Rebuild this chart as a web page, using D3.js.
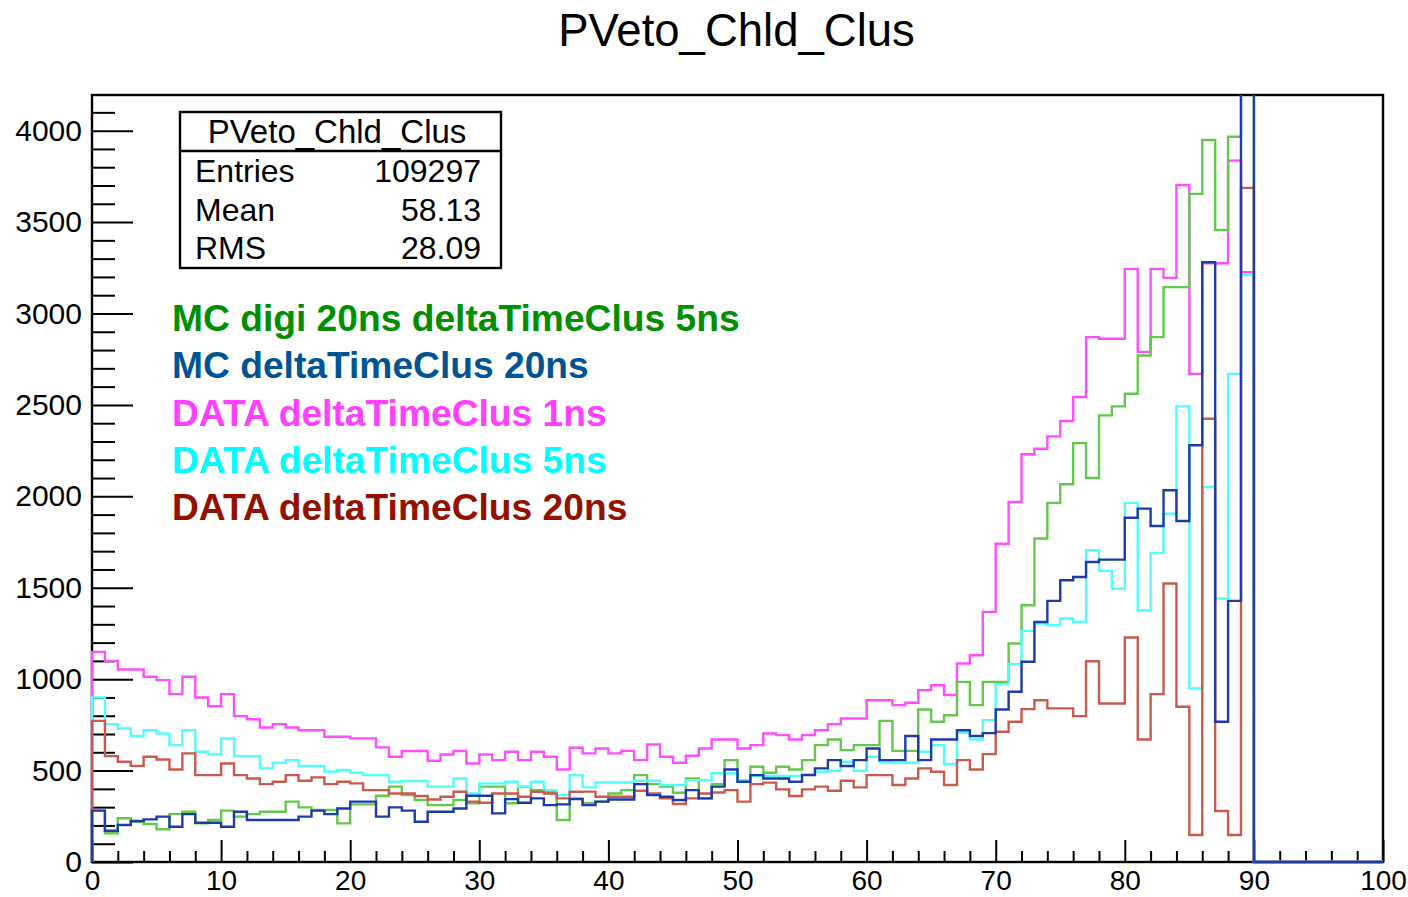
<!DOCTYPE html>
<html>
<head>
<meta charset="utf-8">
<script src="https://cdn.jsdelivr.net/npm/d3@7"></script>
<style>
  body { margin: 0; background: #ffffff; }
  svg { display: block; font-family: "Liberation Sans", Arial, Helvetica, sans-serif; }
</style>
</head>
<body>
<svg id="chart" width="1408" height="897"></svg>
<script>
// Histogram PVeto_Chld_Clus: 100 bins of width 1 over [0, 100]
const binLow = d3.range(0, 100);

// MC digi 20ns deltaTimeClus 5ns (last filled bin is above the plotted range)
const mcDigi5 = [
  281, 157, 239, 220, 208, 179, 262, 275, 211, 230,
  281, 248, 262, 275, 275, 330, 299, 284, 284, 211,
  315, 315, 362, 412, 366, 339, 311, 311, 339, 321,
  412, 412, 321, 412, 393, 384, 230, 348, 321, 330,
  375, 393, 475, 426, 412, 379, 457, 348, 426, 557,
  439, 521, 488, 521, 506, 557, 639, 670, 612, 639,
  639, 772, 608, 608, 834, 767, 803, 985, 858, 985,
  985, 1195, 1404, 1769, 1964, 2066, 2291, 2100, 2443, 2492,
  2561, 2770, 2871, 3144, 3144, 3654, 3949, 3457, 3967, 4500,
  0, 0, 0, 0, 0, 0, 0, 0, 0, 0
];

// MC deltaTimeClus 20ns (last filled bin is above the plotted range)
const mc20 = [
  281, 171, 202, 224, 233, 248, 193, 262, 215, 215,
  193, 275, 230, 230, 230, 230, 248, 281, 262, 293,
  330, 330, 248, 299, 281, 220, 275, 275, 293, 362,
  362, 266, 344, 324, 348, 311, 315, 344, 311, 330,
  342, 342, 426, 366, 357, 339, 393, 348, 412, 506,
  439, 475, 457, 457, 439, 475, 512, 557, 525, 557,
  621, 557, 557, 689, 557, 670, 670, 721, 689, 705,
  834, 931, 1095, 1313, 1428, 1541, 1559, 1641, 1654, 1654,
  1883, 1933, 1838, 2033, 1865, 2279, 3280, 767, 1428, 4500,
  0, 0, 0, 0, 0, 0, 0, 0, 0, 0
];

// DATA deltaTimeClus 1ns (the histogram whose statistics are shown)
const data1 = [
  1149, 1100, 1053, 1053, 1013, 995, 918, 1013, 900, 852,
  918, 798, 781, 736, 754, 736, 721, 721, 685, 685,
  676, 676, 627, 576, 607, 607, 554, 588, 607, 539,
  588, 557, 603, 557, 603, 576, 506, 625, 594, 621,
  594, 608, 557, 643, 576, 543, 581, 621, 670, 670,
  621, 639, 703, 694, 670, 694, 721, 754, 785, 785,
  885, 885, 858, 871, 940, 967, 913, 1086, 1131, 1368,
  1741, 1969, 2230, 2260, 2328, 2412, 2543, 2871, 2862, 2862,
  3244, 2789, 3244, 3195, 3703, 2670, 3275, 3275, 3836, 3226,
  0, 0, 0, 0, 0, 0, 0, 0, 0, 0
];

// DATA deltaTimeClus 5ns
const data5 = [
  900, 754, 730, 689, 721, 703, 639, 721, 603, 588,
  676, 579, 579, 512, 543, 557, 526, 526, 494, 503,
  488, 475, 475, 439, 443, 443, 412, 412, 457, 375,
  430, 430, 439, 412, 439, 393, 366, 475, 408, 435,
  435, 435, 444, 444, 421, 421, 448, 448, 485, 485,
  448, 470, 470, 470, 470, 480, 494, 499, 548, 499,
  576, 548, 543, 543, 603, 639, 536, 707, 670, 776,
  973, 1082, 1264, 1304, 1295, 1332, 1313, 1705, 1592, 1495,
  1964, 1377, 1690, 1905, 2492, 949, 2051, 1441, 2670, 3213,
  0, 0, 0, 0, 0, 0, 0, 0, 0, 0
];

// DATA deltaTimeClus 20ns
const data20 = [
  772, 579, 548, 526, 576, 561, 506, 594, 475, 475,
  539, 475, 457, 426, 439, 475, 444, 463, 426, 439,
  430, 393, 393, 375, 375, 361, 342, 357, 384, 330,
  324, 375, 375, 357, 384, 375, 348, 384, 385, 357,
  357, 357, 390, 375, 348, 317, 348, 375, 380, 393,
  330, 426, 434, 397, 361, 397, 412, 390, 444, 408,
  475, 475, 421, 457, 512, 494, 421, 557, 506, 590,
  712, 767, 836, 885, 840, 840, 798, 1098, 867, 867,
  1228, 670, 918, 1523, 849, 148, 2424, 279, 148, 3687,
  0, 0, 0, 0, 0, 0, 0, 0, 0, 0
];

const yTicksMajor = [0, 500, 1000, 1500, 2000, 2500, 3000, 3500, 4000];
const xTicksMajor = [0, 10, 20, 30, 40, 50, 60, 70, 80, 90, 100];

const statsTitle = "PVeto_Chld_Clus";
const statsRows = [["Entries", "109297"], ["Mean", "58.13"], ["RMS", "28.09"]];

const legendLabels = [
  "MC digi 20ns deltaTimeClus 5ns",
  "MC deltaTimeClus 20ns",
  "DATA deltaTimeClus 1ns",
  "DATA deltaTimeClus 5ns",
  "DATA deltaTimeClus 20ns"
];
const legendColors = ["#008f00", "#005493", "#ff40ff", "#00fdff", "#941100"];

// drawing order of the outlines
const series = [
  { values: data1,   color: "#ff4dff" },
  { values: mcDigi5, color: "#62c94c" },
  { values: data5,   color: "#52fdfd" },
  { values: data20,  color: "#c85a4e" },
  { values: mc20,    color: "#1e3aab" }
];

const svg = d3.select("#chart");
const L = 92, R = 1383, T = 95, B = 862;

const x = d3.scaleLinear().domain([0, 100]).range([L, R]);
const y = d3.scaleLinear().domain([0, 4195]).range([B, T]);

// title
svg.append("text")
  .attr("x", 736.5).attr("y", 30)
  .attr("text-anchor", "middle").attr("dominant-baseline", "central")
  .attr("font-size", 45.5).attr("fill", "#000")
  .text("PVeto_Chld_Clus");

// y axis: major ticks with labels, minor ticks every 100
const yMinor = d3.range(0, 4195, 100).filter(v => v % 500 !== 0);
svg.append("g").attr("transform", `translate(${L},0)`)
  .call(d3.axisLeft(y).tickValues(yMinor).tickSize(-23).tickFormat(""))
  .call(g => g.select(".domain").remove())
  .call(g => g.selectAll("line").attr("stroke", "#000").attr("stroke-width", 2));
svg.append("g").attr("transform", `translate(${L},0)`)
  .call(d3.axisLeft(y).tickValues(yTicksMajor).tickSize(-41).tickPadding(10).tickFormat(d3.format("d")))
  .call(g => g.select(".domain").remove())
  .call(g => g.selectAll("line").attr("stroke", "#000").attr("stroke-width", 2))
  .call(g => g.selectAll("text").attr("font-size", 30).attr("fill", "#000")
    .attr("font-family", "'Liberation Sans', Arial, sans-serif"));

// x axis: major every 10, minor every 2
const xMinor = d3.range(0, 101, 2).filter(v => v % 10 !== 0);
svg.append("g").attr("transform", `translate(0,${B})`)
  .call(d3.axisBottom(x).tickValues(xMinor).tickSize(-11).tickFormat(""))
  .call(g => g.select(".domain").remove())
  .call(g => g.selectAll("line").attr("stroke", "#000").attr("stroke-width", 2));
svg.append("g").attr("transform", `translate(0,${B})`)
  .call(d3.axisBottom(x).tickValues(xTicksMajor).tickSize(-22).tickPadding(8).tickFormat(d3.format("d")))
  .call(g => g.select(".domain").remove())
  .call(g => g.selectAll("line").attr("stroke", "#000").attr("stroke-width", 2))
  .call(g => g.selectAll("text").attr("font-size", 28).attr("fill", "#000")
    .attr("font-family", "'Liberation Sans', Arial, sans-serif"));

// frame
svg.append("rect")
  .attr("x", L).attr("y", T).attr("width", R - L).attr("height", B - T)
  .attr("fill", "none").attr("stroke", "#000").attr("stroke-width", 2.4);

// clip histograms to the frame
svg.append("clipPath").attr("id", "frameClip")
  .append("rect").attr("x", L - 2).attr("y", T).attr("width", R - L + 4).attr("height", B - T + 2);

// step outline of one histogram, from the baseline at x=0 to the baseline at x=100
function stepPath(values) {
  const pts = [[0, 0]];
  binLow.forEach((lo, i) => {
    pts.push([lo, values[i]]);
    pts.push([lo + 1, values[i]]);
  });
  pts.push([100, 0]);
  return d3.line().x(d => x(d[0])).y(d => y(d[1]))(pts);
}

const hg = svg.append("g").attr("clip-path", "url(#frameClip)");
series.forEach(s => {
  hg.append("path")
    .attr("d", stepPath(s.values))
    .attr("fill", "none")
    .attr("stroke", s.color)
    .attr("stroke-width", 2.4)
    .attr("stroke-linejoin", "miter");
});

// stats box
const sb = svg.append("g");
sb.append("rect").attr("x", 180).attr("y", 112).attr("width", 321).attr("height", 156)
  .attr("fill", "#fff").attr("stroke", "#000").attr("stroke-width", 2.4);
sb.append("line").attr("x1", 180).attr("x2", 501).attr("y1", 151).attr("y2", 151)
  .attr("stroke", "#000").attr("stroke-width", 2.4);
sb.append("text").attr("x", 337).attr("y", 131)
  .attr("text-anchor", "middle").attr("dominant-baseline", "central")
  .attr("font-size", 33).attr("fill", "#000").text(statsTitle);
statsRows.forEach((r, i) => {
  const yy = 171 + i * 38.5;
  sb.append("text").attr("x", 195).attr("y", yy).attr("dominant-baseline", "central")
    .attr("font-size", 32).attr("fill", "#000").text(r[0]);
  sb.append("text").attr("x", 481).attr("y", yy).attr("text-anchor", "end")
    .attr("dominant-baseline", "central")
    .attr("font-size", 32).attr("fill", "#000").text(r[1]);
});

// legend annotations
legendLabels.forEach((t, i) => {
  svg.append("text")
    .attr("x", 172).attr("y", 318 + i * 47.3)
    .attr("dominant-baseline", "central")
    .attr("font-size", 37.2).attr("font-weight", "bold")
    .attr("fill", legendColors[i])
    .text(t);
});
</script>
</body>
</html>
